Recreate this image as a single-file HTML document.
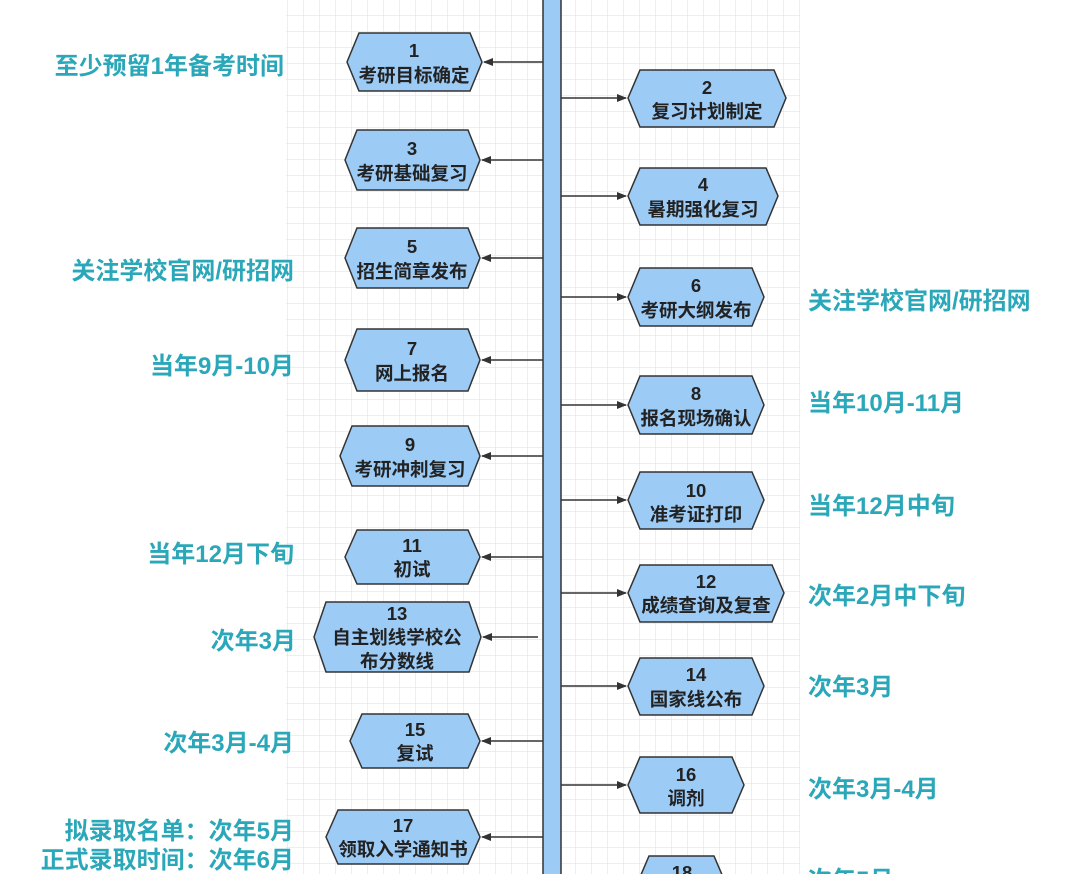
<!DOCTYPE html>
<html><head><meta charset="utf-8"><style>
html,body{margin:0;padding:0;background:#fff;}
svg{display:block;}
.n{font-family:"Liberation Sans","Noto Sans CJK SC",sans-serif;font-size:18.5px;font-weight:bold;fill:#222;text-anchor:middle;}
.l{font-family:"Liberation Sans","Noto Sans CJK SC",sans-serif;font-size:24px;font-weight:bold;fill:#2aa7b8;}
</style></head><body>
<svg width="1080" height="874" viewBox="0 0 1080 874" xmlns="http://www.w3.org/2000/svg">
<defs>
<pattern id="g" width="16" height="16" patternUnits="userSpaceOnUse"><path d="M16 0V16M0 16H16" stroke="#dedede" stroke-width="1" fill="none"/></pattern>
<marker id="a" markerWidth="10" markerHeight="8" refX="9" refY="4" orient="auto" markerUnits="userSpaceOnUse"><path d="M0 0L10 4L0 8Z" fill="#333"/></marker>
</defs>
<rect x="286" y="0" width="514" height="874" fill="url(#g)"/>
<rect x="543" y="-2" width="18" height="880" fill="#9ccbf6" stroke="#333" stroke-width="1.5"/>
<g stroke="#333" stroke-width="1.5" fill="#9ccbf6">
<polygon points="359,33 470,33 482,62 470,91 359,91 347,62"/>
<polygon points="357,130 468,130 480,160 468,190 357,190 345,160"/>
<polygon points="357,228 468,228 480,258 468,288 357,288 345,258"/>
<polygon points="357,329 468,329 480,360 468,391 357,391 345,360"/>
<polygon points="352,426 468,426 480,456 468,486 352,486 340,456"/>
<polygon points="357,530 468,530 480,557 468,584 357,584 345,557"/>
<polygon points="326,602 469,602 481,637 469,672 326,672 314,637"/>
<polygon points="362,714 468,714 480,741 468,768 362,768 350,741"/>
<polygon points="338,810 468,810 480,837 468,864 338,864 326,837"/>
<polygon points="640,70 774,70 786,98 774,127 640,127 628,98"/>
<polygon points="640,168 766,168 778,196 766,225 640,225 628,196"/>
<polygon points="640,268 752,268 764,297 752,326 640,326 628,297"/>
<polygon points="640,376 752,376 764,405 752,434 640,434 628,405"/>
<polygon points="640,472 752,472 764,500 752,529 640,529 628,500"/>
<polygon points="640,565 772,565 784,593 772,622 640,622 628,593"/>
<polygon points="640,658 752,658 764,686 752,715 640,715 628,686"/>
<polygon points="640,757 732,757 744,785 732,813 640,813 628,785"/>
<polygon points="649,856 714,856 726,884 714,912 649,912 637,884"/>
</g>
<g stroke="#333" stroke-width="1.5" marker-end="url(#a)">
<line x1="543" y1="62" x2="484" y2="62"/>
<line x1="543" y1="160" x2="482" y2="160"/>
<line x1="543" y1="258" x2="482" y2="258"/>
<line x1="543" y1="360" x2="482" y2="360"/>
<line x1="543" y1="456" x2="482" y2="456"/>
<line x1="543" y1="557" x2="482" y2="557"/>
<line x1="538" y1="637" x2="483" y2="637"/>
<line x1="543" y1="741" x2="482" y2="741"/>
<line x1="543" y1="837" x2="482" y2="837"/>
<line x1="561" y1="98" x2="626" y2="98"/>
<line x1="561" y1="196" x2="626" y2="196"/>
<line x1="561" y1="297" x2="626" y2="297"/>
<line x1="561" y1="405" x2="626" y2="405"/>
<line x1="561" y1="500" x2="626" y2="500"/>
<line x1="561" y1="593" x2="626" y2="593"/>
<line x1="561" y1="686" x2="626" y2="686"/>
<line x1="561" y1="785" x2="626" y2="785"/>
</g>
<g class="n">
<text x="414" y="57">1</text><text x="414" y="82">考研目标确定</text>
<text x="412" y="155">3</text><text x="412" y="180">考研基础复习</text>
<text x="412" y="253">5</text><text x="412" y="278">招生简章发布</text>
<text x="412" y="355">7</text><text x="412" y="380">网上报名</text>
<text x="410" y="451">9</text><text x="410" y="476">考研冲刺复习</text>
<text x="412" y="552">11</text><text x="412" y="576">初试</text>
<text x="397" y="620">13</text><text x="397" y="644">自主划线学校公</text><text x="397" y="668">布分数线</text>
<text x="415" y="736">15</text><text x="415" y="760">复试</text>
<text x="403" y="832">17</text><text x="403" y="856">领取入学通知书</text>
<text x="707" y="94">2</text><text x="707" y="118">复习计划制定</text>
<text x="703" y="191">4</text><text x="703" y="216">暑期强化复习</text>
<text x="696" y="292">6</text><text x="696" y="317">考研大纲发布</text>
<text x="696" y="400">8</text><text x="696" y="425">报名现场确认</text>
<text x="696" y="497">10</text><text x="696" y="521">准考证打印</text>
<text x="706" y="588">12</text><text x="706" y="612">成绩查询及复查</text>
<text x="696" y="681">14</text><text x="696" y="706">国家线公布</text>
<text x="686" y="781">16</text><text x="686" y="805">调剂</text>
<text x="682" y="879">18</text>
</g>
<g class="l" text-anchor="end">
<text x="284" y="74">至少预留1年备考时间</text>
<text x="294" y="279">关注学校官网/研招网</text>
<text x="294" y="374">当年9月-10月</text>
<text x="294" y="562">当年12月下旬</text>
<text x="296" y="649">次年3月</text>
<text x="294" y="751">次年3月-4月</text>
<text x="294" y="839">拟录取名单：次年5月</text>
<text x="294" y="868">正式录取时间：次年6月</text>
</g>
<g class="l">
<text x="808" y="309">关注学校官网/研招网</text>
<text x="808" y="411">当年10月-11月</text>
<text x="808" y="514">当年12月中旬</text>
<text x="808" y="604">次年2月中下旬</text>
<text x="808" y="695">次年3月</text>
<text x="808" y="797">次年3月-4月</text>
<text x="808" y="888">次年5月</text>
</g>
</svg>
</body></html>
